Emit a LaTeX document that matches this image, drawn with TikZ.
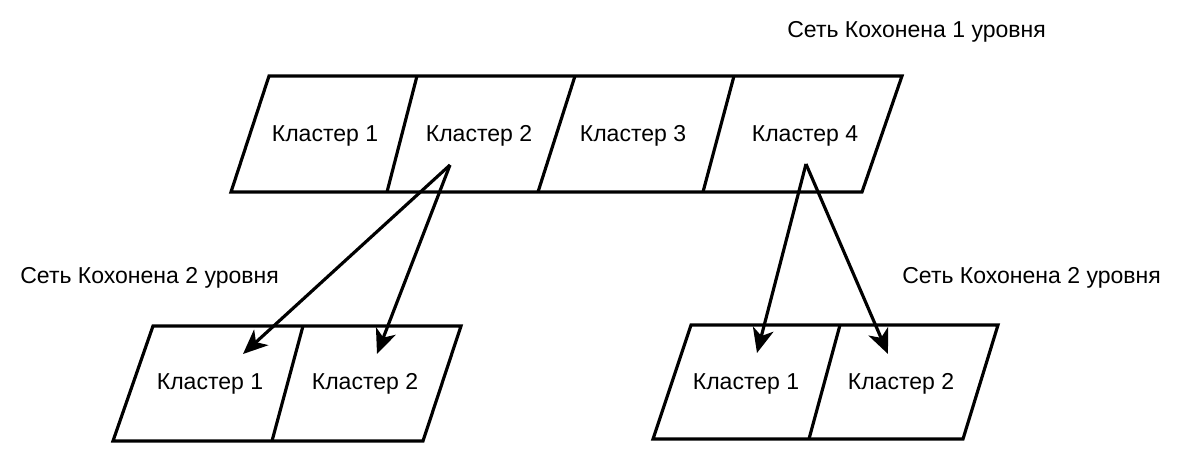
\documentclass[tikz,border=0pt]{standalone}
\usepackage{fontspec}
\setmainfont{Liberation Sans}
\usetikzlibrary{arrows.meta}

\begin{document}
\begin{tikzpicture}[x=0.02cm,y=-0.02cm]
					\tikzstyle{box}=[draw=black,line width=1.8pt,line join=miter]
					\tikzstyle{cell}=[inner sep=0pt,font=\fontsize{13.1}{15}\selectfont]
					\tikzstyle{link}=[line width=1.8pt,-{Stealth[length=14pt,width=12pt,inset=4pt]}]
					\useasboundingbox (0,0) rectangle (1178,449);
					% level 1
					\draw[box] (269,76) -- (902,76) -- (862,192) -- (231,192) -- cycle;
					\draw[box] (417,76) -- (387,192);
					\draw[box] (575,76) -- (538,192);
					\draw[box] (734,76) -- (703,192);
					\node[cell] (t1) at (325,136) {Кластер 1};
					\node[cell] (t2) at (479,136) {Кластер 2};
					\node[cell] (t3) at (633,136) {Кластер 3};
					\node[cell] (t4) at (805,136) {Кластер 4};
					\node[cell,anchor=west] (n1) at (787,32) {Сеть Кохонена 1 уровня};
					% level 2, left
					\draw[box] (153,326) -- (461,326) -- (423,441) -- (113,441) -- cycle;
					\draw[box] (303,326) -- (272,441);
					\node[cell] (l1) at (210,384) {Кластер 1};
					\node[cell] (l2) at (365,384) {Кластер 2};
					\node[cell,anchor=west] (n2) at (20,278) {Сеть Кохонена 2 уровня};
					% level 2, right
					\draw[box] (691,325) -- (998,325) -- (963,439) -- (653,439) -- cycle;
					\draw[box] (840,325) -- (809,439);
					\node[cell] (r1) at (746,384) {Кластер 1};
					\node[cell] (r2) at (901,384) {Кластер 2};
					\node[cell,anchor=west] (n3) at (902,278) {Сеть Кохонена 2 уровня};
					% links
					\coordinate (s2) at (450,165);
					\coordinate (s4) at (806,164);
					\coordinate (e1) at (243,354);
					\coordinate (e2) at (377,354);
					\coordinate (e3) at (757,353);
					\coordinate (e4) at (888,354);
					\draw[link] (s2) -- (e1);
					\draw[link] (s2) -- (e2);
					\draw[link] (s4) -- (e3);
					\draw[link] (s4) -- (e4);
\end{tikzpicture}
\end{document}
